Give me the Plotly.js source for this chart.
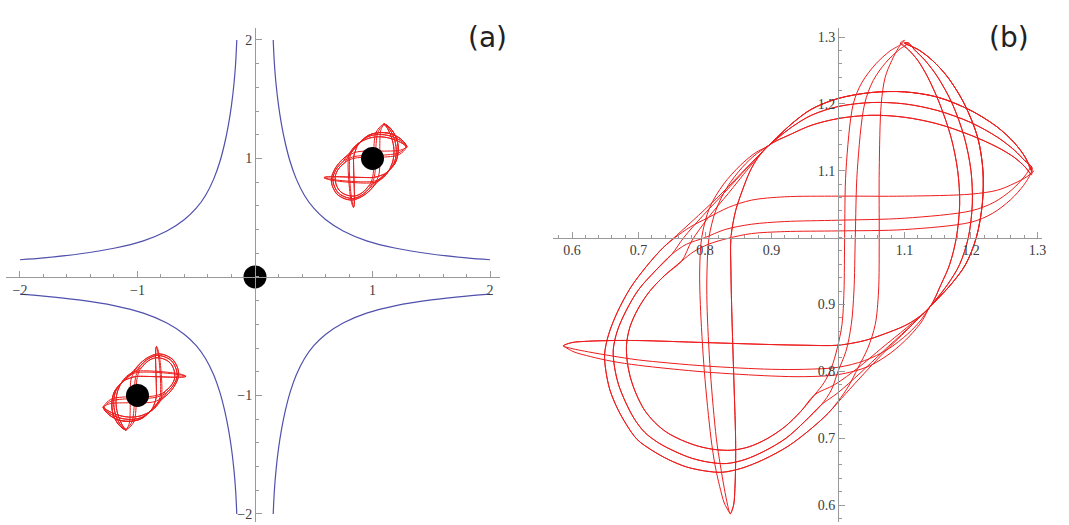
<!DOCTYPE html>
<html>
<head>
<meta charset="utf-8">
<script src="https://cdn.plot.ly/plotly-3.0.1.min.js"></script>
<style>
  html, body { margin: 0; padding: 0; background: #ffffff; }
  #chart { width: 1069px; height: 525px; }
</style>
</head>
<body>
<div id="chart"></div>
<script>
// ---------------------------------------------------------------
// Data
// ---------------------------------------------------------------

// Separatrix branch in the first quadrant (x > 0, z > 0); the other
// three branches are its mirror images.
const sepX = [0.155, 0.165, 0.18, 0.2, 0.225, 0.26, 0.3, 0.35, 0.42, 0.5, 0.6, 0.75, 0.95, 1.2, 1.5, 1.8, 2.0];
const sepZ = [2.0, 1.8, 1.62, 1.45, 1.29, 1.12, 0.97, 0.83, 0.69, 0.58, 0.485, 0.388, 0.305, 0.242, 0.194, 0.161, 0.145];

// Equilibrium points
const eqX = [0, 1, -1];
const eqZ = [0, 1, -1];

// Orbit around (1, 1), stored as strands between turning points.
// Strands running left from the right tip (z nearly constant)
const f1TopX = [1.295, 1.284, 1.265, 1.24, 1.2, 1.1, 1.0, 0.92, 0.87, 0.835, 0.805, 0.778, 0.755, 0.737];
const f1TopZ = [1.100, 1.091, 1.081, 1.071, 1.065, 1.062, 1.062, 1.061, 1.056, 1.045, 1.030, 1.016, 1.000, 0.985];
const f1MidX = [1.291, 1.281, 1.262, 1.235, 1.2, 1.1, 1.0, 0.92, 0.87, 0.83, 0.8, 0.772, 0.75];
const f1MidZ = [1.106, 1.092, 1.072, 1.053, 1.04, 1.029, 1.026, 1.024, 1.02, 1.012, 1.0, 0.99, 0.975];
const f1LowX = [1.289, 1.279, 1.26, 1.232, 1.2, 1.1, 1.0, 0.92, 0.87, 0.835, 0.805, 0.783, 0.765];
const f1LowZ = [1.094, 1.078, 1.057, 1.036, 1.023, 1.012, 1.01, 1.009, 1.006, 0.999, 0.99, 0.979, 0.965];

// Lower-left turns (left side down and round along the bottom)
const turnOuterX = [0.737, 0.712, 0.688, 0.668, 0.655, 0.649, 0.651, 0.657, 0.668, 0.682, 0.698, 0.72, 0.745, 0.772, 0.8, 0.826, 0.855, 0.888, 0.925, 0.957, 0.985];
const turnOuterZ = [0.985, 0.957, 0.925, 0.888, 0.855, 0.826, 0.8, 0.772, 0.745, 0.72, 0.698, 0.682, 0.668, 0.657, 0.651, 0.649, 0.655, 0.668, 0.688, 0.712, 0.737];
const turnMidX = [0.75, 0.725, 0.70, 0.681, 0.668, 0.662, 0.664, 0.67, 0.68, 0.693, 0.709, 0.73, 0.755, 0.78, 0.806, 0.832, 0.86, 0.89, 0.922, 0.95, 0.975];
const turnMidZ = [0.975, 0.95, 0.922, 0.89, 0.86, 0.832, 0.806, 0.78, 0.755, 0.73, 0.709, 0.693, 0.68, 0.67, 0.664, 0.662, 0.668, 0.681, 0.70, 0.725, 0.75];
const turnInnerX = [0.765, 0.74, 0.717, 0.699, 0.687, 0.682, 0.683, 0.688, 0.697, 0.709, 0.724, 0.742, 0.765, 0.79, 0.815, 0.84, 0.866, 0.893, 0.92, 0.944, 0.965];
const turnInnerZ = [0.965, 0.944, 0.92, 0.893, 0.866, 0.84, 0.815, 0.79, 0.765, 0.742, 0.724, 0.709, 0.697, 0.688, 0.683, 0.682, 0.687, 0.699, 0.717, 0.74, 0.765];

// Lower-right arcs rising to the crossing near (1.14, 0.9)
const arcOuterX = [0.985, 1.003, 1.033, 1.068, 1.104, 1.138];
const arcOuterZ = [0.737, 0.757, 0.79, 0.827, 0.862, 0.896];
const arcMidX = [0.975, 1.0, 1.033, 1.068, 1.104, 1.138];
const arcMidZ = [0.75, 0.768, 0.797, 0.83, 0.863, 0.896];
const arcInnerX = [0.965, 0.995, 1.03, 1.066, 1.103, 1.138];
const arcInnerZ = [0.765, 0.78, 0.805, 0.835, 0.865, 0.896];

// Right-hand arcs climbing to the top tip
const f8Z = [0.896, 0.93, 0.96, 1.0, 1.05, 1.1, 1.15, 1.2, 1.24, 1.265, 1.281, 1.291];
const f8OuterX = [1.138, 1.17, 1.192, 1.208, 1.217, 1.218, 1.21, 1.19, 1.165, 1.142, 1.121, 1.1];
const f8MidX = [1.138, 1.165, 1.183, 1.196, 1.202, 1.2, 1.19, 1.172, 1.15, 1.131, 1.115, 1.106];
const f8InnerX = [1.138, 1.155, 1.168, 1.178, 1.183, 1.18, 1.17, 1.153, 1.135, 1.12, 1.106, 1.094];

// Strands from the left tip to the crossing near (1.14, 0.9)
const f3UpX = [0.587, 0.6, 0.625, 0.66, 0.7, 0.8, 0.9, 0.95, 1.0, 1.04, 1.07, 1.1, 1.12, 1.138];
const f3UpZ = [0.838, 0.843, 0.845, 0.846, 0.846, 0.843, 0.84, 0.839, 0.839, 0.846, 0.856, 0.868, 0.88, 0.896];
const f3LowX = [0.587, 0.6, 0.625, 0.66, 0.7, 0.8, 0.9, 0.95, 1.0, 1.04, 1.075, 1.105, 1.125, 1.138];
const f3LowZ = [0.838, 0.834, 0.829, 0.823, 0.817, 0.808, 0.803, 0.803, 0.806, 0.816, 0.833, 0.856, 0.877, 0.896];
const f3BotX = [0.59, 0.603, 0.628, 0.66, 0.7, 0.8, 0.9, 0.95, 1.0, 1.045, 1.08, 1.108, 1.127, 1.138];
const f3BotZ = [0.836, 0.829, 0.822, 0.815, 0.809, 0.799, 0.793, 0.792, 0.795, 0.807, 0.828, 0.853, 0.876, 0.896];

// ---------------------------------------------------------------
// Assemble the orbit path (the orbit is symmetric under x <-> z)
// ---------------------------------------------------------------
function strand(xs, zs) { return xs.map((x, i) => [x, zs[i]]); }
function rev(s) { return s.slice().reverse(); }
function swap(s) { return s.map(p => [p[1], p[0]]); }
function chain(...parts) {
  let out = [];
  parts.forEach(p => {
    const last = out[out.length - 1];
    const same = last && Math.abs(last[0] - p[0][0]) < 1e-9 && Math.abs(last[1] - p[0][1]) < 1e-9;
    out = out.concat(same ? p.slice(1) : p);
  });
  return out;
}

const lap1 = chain(strand(f1TopX, f1TopZ), strand(turnOuterX, turnOuterZ), strand(arcOuterX, arcOuterZ), strand(f8OuterX, f8Z));
const lap2 = chain(strand(f1MidX, f1MidZ), strand(turnMidX, turnMidZ), strand(arcMidX, arcMidZ), strand(f8MidX, f8Z));
const lap3 = chain(strand(f1LowX, f1LowZ), strand(turnInnerX, turnInnerZ), strand(arcInnerX, arcInnerZ), strand(f8InnerX, f8Z));
const tipLap1 = chain(rev(strand(f8MidX, f8Z)), rev(strand(f3LowX, f3LowZ)), strand(f3UpX, f3UpZ), strand(f8InnerX, f8Z));
const tipLap2 = chain(rev(strand(f8OuterX, f8Z)), rev(strand(f3BotX, f3BotZ)), strand(f3UpX, f3UpZ), strand(f8OuterX, f8Z));

const orbit = chain(
  lap1, tipLap1, swap(lap1), swap(tipLap1),
  lap2, tipLap2, swap(lap2), swap(tipLap2),
  lap3, swap(lap3)
);
const orbitX = orbit.map(p => p[0]);
const orbitZ = orbit.map(p => p[1]);

// ---------------------------------------------------------------
// Layout geometry (pixel boxes of the two panels)
// ---------------------------------------------------------------
const W = 1069, H = 525;
const rangeA = { x: [-2.119, 2.085], z: [-2.068, 2.101] };
const rangeB = { x: [0.5714, 1.3068], z: [0.5746, 1.3135] };
const domA = { x: [6 / W, 500 / W], z: [(H - 522) / H, (H - 28) / H] };
const domB = { x: [553 / W, 1042 / W], z: [(H - 522) / H, (H - 28) / H] };

function at(value, range, dom) {
  return dom[0] + (value - range[0]) / (range[1] - range[0]) * (dom[1] - dom[0]);
}

const AXIS_GREY = '#9a9a9a';
const tickFont = { family: 'Liberation Serif, DejaVu Serif, serif', size: 14, color: '#3c3c3c' };

function axis(extra) {
  return Object.assign({
    showgrid: false,
    zeroline: false,
    showline: true,
    linecolor: AXIS_GREY,
    linewidth: 1,
    ticks: 'inside',
    ticklen: 6,
    tickwidth: 1,
    tickcolor: AXIS_GREY,
    tickfont: tickFont,
    anchor: 'free',
    fixedrange: true
  }, extra);
}

const blue = '#5050ad';
const red = '#ee1c1c';

const traces = [];

// separatrix branches in the four quadrants
[[1, 1], [-1, 1], [1, -1], [-1, -1]].forEach(([sx, sz]) => {
  traces.push({
    type: 'scatter', mode: 'lines', xaxis: 'x', yaxis: 'y',
    x: sepX.map(v => sx * v), y: sepZ.map(v => sz * v),
    line: { color: blue, width: 1.2, shape: 'spline', smoothing: 1 },
    hoverinfo: 'skip'
  });
});

// orbits around (1,1) and (-1,-1) in panel (a)
traces.push({
  type: 'scatter', mode: 'lines', xaxis: 'x', yaxis: 'y',
  x: orbitX, y: orbitZ,
  line: { color: red, width: 1, shape: 'spline', smoothing: 0.9 },
  hoverinfo: 'skip'
});
traces.push({
  type: 'scatter', mode: 'lines', xaxis: 'x', yaxis: 'y',
  x: orbitX.map(v => -v), y: orbitZ.map(v => -v),
  line: { color: red, width: 1, shape: 'spline', smoothing: 0.9 },
  hoverinfo: 'skip'
});

// equilibrium points
traces.push({
  type: 'scatter', mode: 'markers', xaxis: 'x', yaxis: 'y',
  x: eqX, y: eqZ, cliponaxis: false,
  marker: { color: '#000000', size: 23 },
  hoverinfo: 'skip'
});

// enlarged orbit in panel (b)
traces.push({
  type: 'scatter', mode: 'lines', xaxis: 'x2', yaxis: 'y2',
  x: orbitX, y: orbitZ,
  line: { color: red, width: 1, shape: 'spline', smoothing: 0.9 },
  hoverinfo: 'skip'
});

const labelFont = { family: 'Liberation Serif, DejaVu Serif, serif', size: 13, color: '#444' };
const panelFont = { family: 'DejaVu Sans, sans-serif', size: 28, color: '#222' };

const layout = {
  width: W, height: H,
  margin: { l: 0, r: 0, t: 0, b: 0 },
  paper_bgcolor: '#ffffff',
  plot_bgcolor: 'rgba(0,0,0,0)',
  showlegend: false,
  xaxis: axis({
    domain: domA.x, range: rangeA.x,
    position: at(0, rangeA.z, domA.z),
    tickmode: 'array', tickvals: [-2, -1, 1, 2],
    minor: { tickmode: 'linear', tick0: 0, dtick: 0.2, ticks: 'inside', ticklen: 3, tickcolor: AXIS_GREY }
  }),
  yaxis: axis({
    domain: domA.z, range: rangeA.z,
    position: at(0, rangeA.x, domA.x), side: 'left',
    tickmode: 'array', tickvals: [-2, -1, 1, 2],
    minor: { tickmode: 'linear', tick0: 0, dtick: 0.2, ticks: 'inside', ticklen: 3, tickcolor: AXIS_GREY }
  }),
  xaxis2: axis({
    domain: domB.x, range: rangeB.x,
    position: at(1, rangeB.z, domB.z),
    tickmode: 'array', tickvals: [0.6, 0.7, 0.8, 0.9, 1.1, 1.2, 1.3],
    minor: { tickmode: 'linear', tick0: 0, dtick: 0.02, ticks: 'inside', ticklen: 3, tickcolor: AXIS_GREY }
  }),
  yaxis2: axis({
    domain: domB.z, range: rangeB.z,
    position: at(1, rangeB.x, domB.x), side: 'left',
    tickmode: 'array', tickvals: [0.6, 0.7, 0.8, 0.9, 1.1, 1.2, 1.3],
    minor: { tickmode: 'linear', tick0: 0, dtick: 0.02, ticks: 'inside', ticklen: 3, tickcolor: AXIS_GREY }
  }),
  annotations: [
    { xref: 'x', yref: 'y', x: 0, y: 2.236, text: 'z', showarrow: false, font: labelFont },
    { xref: 'x', yref: 'y', x: 2.238, y: 0, text: 'x', showarrow: false, font: labelFont },
    { xref: 'x2', yref: 'y2', x: 1.0, y: 1.337, text: 'z', showarrow: false, font: labelFont },
    { xref: 'x2', yref: 'y2', x: 1.334, y: 1.0, text: 'x', showarrow: false, font: labelFont },
    { xref: 'paper', yref: 'paper', x: 487 / W, y: (H - 19) / H, text: '(a)', showarrow: false, font: panelFont },
    { xref: 'paper', yref: 'paper', x: 1031 / W, y: (H - 19) / H, text: '(b)', showarrow: false, font: panelFont }
  ]
};

Plotly.newPlot('chart', traces, layout, { staticPlot: true, displayModeBar: false });
</script>
</body>
</html>
